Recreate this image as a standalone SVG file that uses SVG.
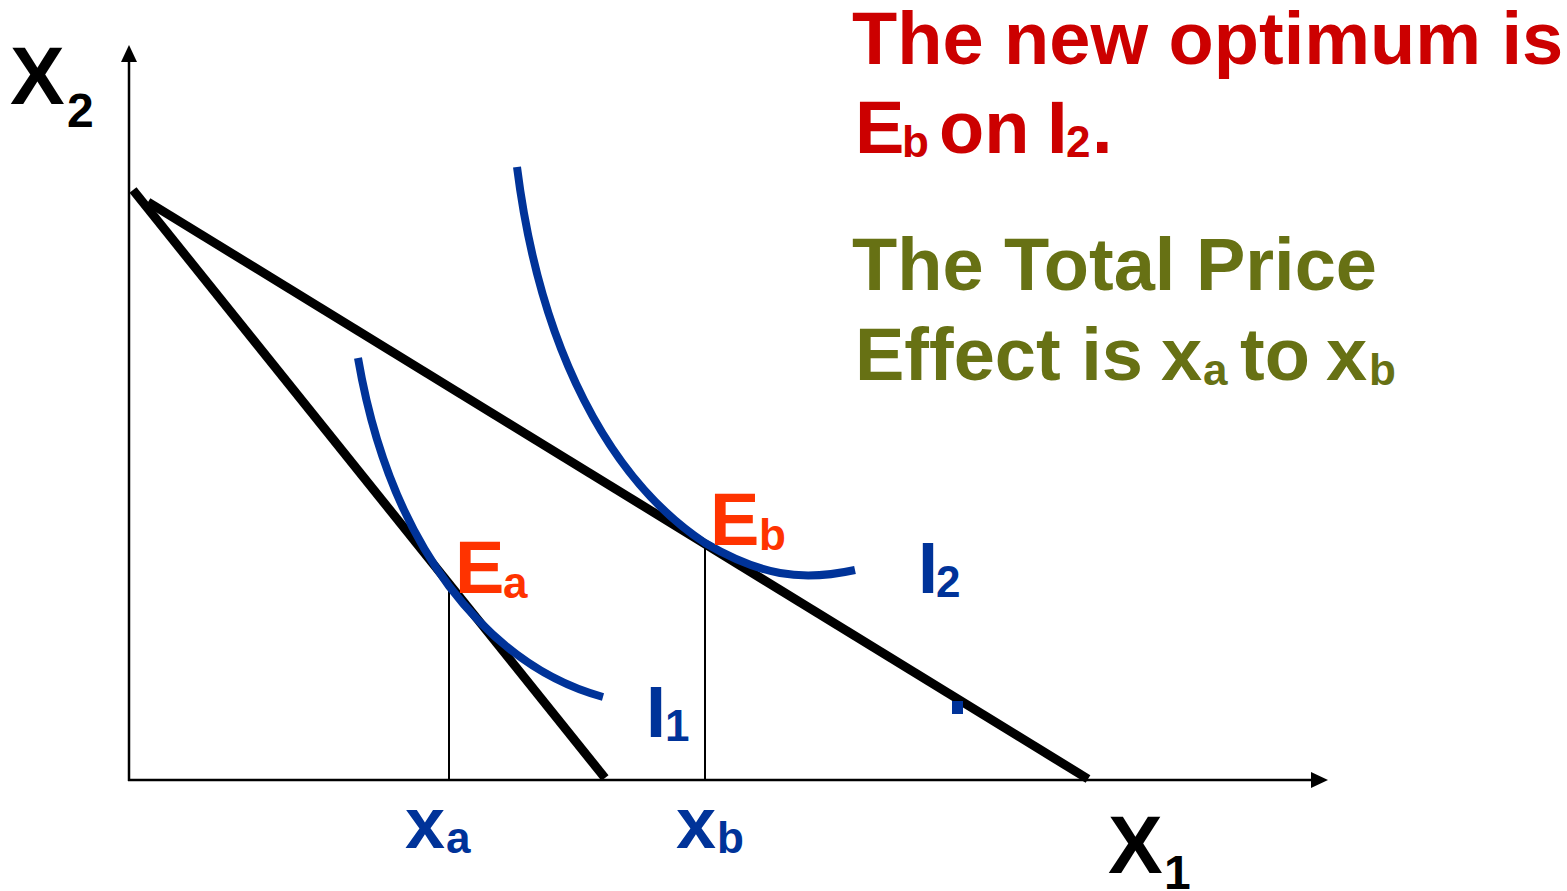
<svg xmlns="http://www.w3.org/2000/svg" width="1567" height="891" viewBox="0 0 1567 891">
<style>
text{font-family:"Liberation Sans",Arial,sans-serif;font-weight:bold}
.ax{stroke:#000;stroke-width:2.5;fill:none}
.bl{stroke:#000;stroke-width:9;fill:none}
.ic{stroke:#003399;stroke-width:8;fill:none}
.dl{stroke:#000;stroke-width:2;fill:none}
.red{fill:#CC0000}
.olive{fill:#677114}
.blue{fill:#003399}
.or{fill:#FF3300}
</style>
<rect width="1567" height="891" fill="#fff"/>
<g id="connectors">
<line class="ax" x1="129" y1="781" x2="129" y2="60"/>
<path d="M121,62 L129,45 L137,62 Z" fill="#000"/>
<line class="ax" x1="128" y1="780" x2="1312" y2="780"/>
<path d="M1311,772 L1328,780 L1311,788 Z" fill="#000"/>
<line class="bl" x1="133" y1="190" x2="605" y2="778"/>
<line class="bl" x1="148" y1="202" x2="1088" y2="779"/>
<line class="dl" x1="449" y1="588" x2="449" y2="780"/>
<line class="dl" x1="705" y1="543" x2="705" y2="780"/>
</g>
<g id="I1">
<path class="ic" d="M358,358 C372,440 400,520 449,586 C490,640 540,680 603,697"/>
<text x="646" y="737" font-size="72" class="blue">I</text>
<text x="665" y="741" font-size="44" class="blue">1</text>
</g>
<g id="I2">
<path class="ic" d="M517,167 C540,350 610,480 705,543 C760,575 800,582 855,570"/>
<text x="918" y="593" font-size="72" class="blue">I</text>
<text x="936" y="597" font-size="44" class="blue">2</text>
</g>
<g id="Ea">
<text x="455" y="593" font-size="74" class="or">E</text>
<text x="503" y="598" font-size="44" class="or">a</text>
</g>
<g id="Eb">
<text x="710" y="545" font-size="74" class="or">E</text>
<text x="759" y="550" font-size="44" class="or">b</text>
</g>
<rect x="952" y="701" width="11" height="13" fill="#003399"/>
<g id="xa">
<text x="405" y="848" font-size="72" class="blue">x</text>
<text x="446" y="853" font-size="44" class="blue">a</text>
</g>
<g id="xb">
<text x="676" y="848" font-size="72" class="blue">x</text>
<text x="717" y="853" font-size="44" class="blue">b</text>
</g>
<g id="X2">
<text x="10" y="104" font-size="82" fill="#000">X</text>
<text x="67" y="127" font-size="48" fill="#000">2</text>
</g>
<g id="X1">
<text x="1108" y="873" font-size="82" fill="#000">X</text>
<text x="1164" y="889" font-size="48" fill="#000">1</text>
</g>
<g id="caption1">
<text x="852" y="64" font-size="74" class="red">The new optimum is</text>
<text x="855" y="153" font-size="74" class="red">E</text>
<text x="902" y="157" font-size="44" class="red">b</text>
<text x="939" y="153" font-size="74" class="red">on</text>
<text x="1047" y="153" font-size="74" class="red">I</text>
<text x="1066" y="157" font-size="44" class="red">2</text>
<text x="1092" y="153" font-size="74" class="red">.</text>
</g>
<g id="caption2">
<text x="852" y="290" font-size="74" class="olive">The Total Price</text>
<text x="855" y="380" font-size="74" class="olive">Effect is</text>
<text x="1161" y="380" font-size="74" class="olive">x</text>
<text x="1203" y="385" font-size="44" class="olive">a</text>
<text x="1240" y="380" font-size="74" class="olive">to</text>
<text x="1326" y="380" font-size="74" class="olive">x</text>
<text x="1369" y="385" font-size="44" class="olive">b</text>
</g>
</svg>
